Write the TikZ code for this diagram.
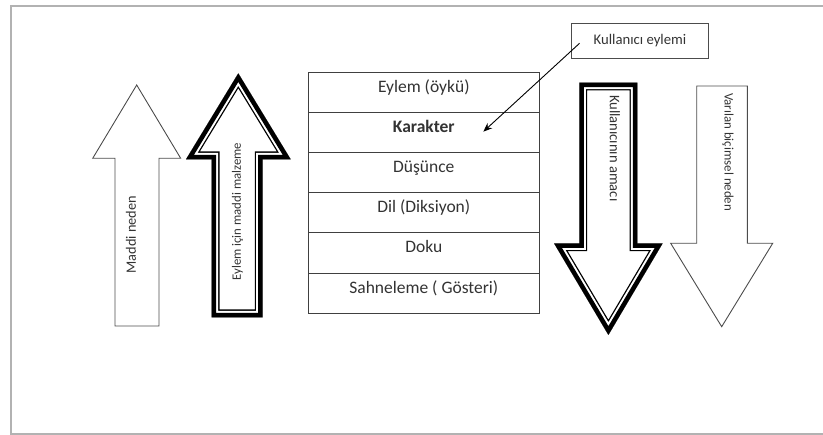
\documentclass[tikz,border=0pt]{standalone}
\usepackage{fontspec}
\setmainfont{Carlito}
\usetikzlibrary{positioning,arrows.meta}
\tikzset{
  rowbox/.style={draw=black!75,line width=0.9pt,minimum width=231pt,minimum height=40.2pt,
    outer sep=0pt,inner sep=0pt,text height=6pt,text depth=6pt,
    font=\fontsize{17.5}{20}\selectfont,text=black!80},
  thinarrow/.style={draw=black!70,line width=0.9pt,line join=miter},
  lbl/.style={text=black!80,inner sep=0pt},
}
\begin{document}
\begin{tikzpicture}[x=1pt,y=-1pt]
  \useasboundingbox (0,0) rectangle (823,435);
  % frame
  \draw[gray!60,line width=1.5pt] (823,6) -- (11,6) -- (11,434) -- (823,434);
  % table of parts
  \node[rowbox] (eylem) at (423.8,92.1) {Eylem (öykü)};
  \node[rowbox,below=0pt of eylem] (karakter) {\textbf{Karakter}};
  \node[rowbox,below=0pt of karakter] (dusunce) {Düşünce};
  \node[rowbox,below=0pt of dusunce] (dil) {Dil (Diksiyon)};
  \node[rowbox,below=0pt of dil] (doku) {Doku};
  \node[rowbox,below=0pt of doku] (sahne) {Sahneleme ( Gösteri)};
  % up arrows
  \draw[thinarrow] (136.7,85) -- (180.7,158.3) -- (159,158.3) -- (159,326)
    -- (115,326) -- (115,158.3) -- (92.7,158.3) -- cycle;
  \def\upB{(238.3,73.3) -- (290.7,159.3) -- (262.7,159.3) -- (262.7,317.3)
    -- (211.7,317.3) -- (211.7,159.3) -- (186,159.3) -- cycle}
  \begin{scope}
    \clip \upB;
    \draw[line width=15.6pt,line join=miter] \upB;
    \draw[white,line width=13pt,line join=miter] \upB;
    \draw[line width=9pt,line join=miter] \upB;
  \end{scope}
  \node[lbl,rotate=90,font=\fontsize{14.3}{16}\selectfont] (maddi) at (131,234.7) {Maddi neden};
  \node[lbl,rotate=90,font=\fontsize{12.8}{15}\selectfont] (malzeme) at (237.5,211.7) {Eylem için maddi malzeme};
  % down arrows
  \def\downC{(579.3,82.7) -- (637.3,82.7) -- (637.3,243.3) -- (662.7,243.3)
    -- (608.4,335) -- (554,243.3) -- (579.3,243.3) -- cycle}
  \begin{scope}
    \clip \downC;
    \draw[line width=15.6pt,line join=miter] \downC;
    \draw[white,line width=13pt,line join=miter] \downC;
    \draw[line width=9pt,line join=miter] \downC;
  \end{scope}
  \draw[thinarrow] (696.7,86) -- (747.3,86) -- (747.3,243.3) -- (772.7,243.3)
    -- (721.7,326.7) -- (670.7,243.3) -- (696.7,243.3) -- cycle;
  \node[lbl,rotate=-90,font=\fontsize{14.6}{16}\selectfont] (amac) at (615,148.3) {Kullanıcının amacı};
  \node[lbl,rotate=-90,font=\fontsize{12.9}{15}\selectfont] (bicimsel) at (728,152.2) {Varılan biçimsel neden};
  % user action
  \node[draw=black!70,line width=0.9pt,minimum width=136.6pt,minimum height=35pt,
    text=black!80,font=\fontsize{14.7}{16}\selectfont] (kullanici) at (640,40.8) {Kullanıcı eylemi};
  \coordinate (hedef) at (483.3,131.7);
  \draw[-{Stealth[length=9pt,width=7pt]},line width=0.9pt] ([shift={(8.3pt,-2.5pt)}]kullanici.west) -- (hedef);
\end{tikzpicture}
\end{document}
